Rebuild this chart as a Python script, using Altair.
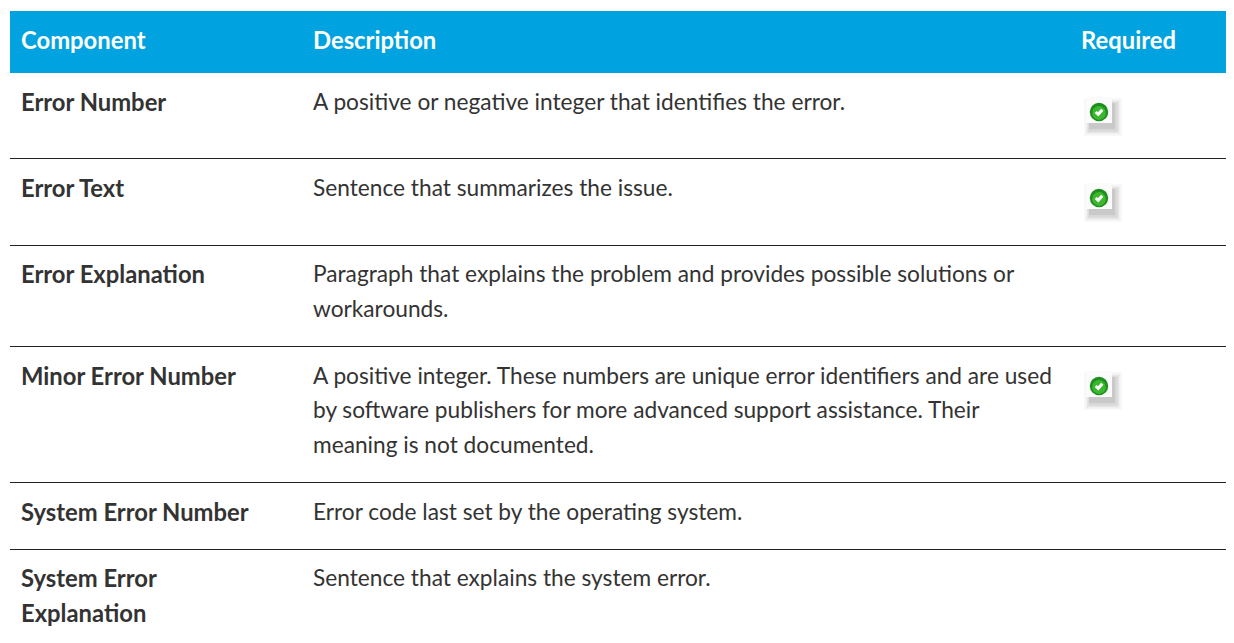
import altair as alt
import pandas as pd

# ---- table content ----
headers = ["Component", "Description", "Required"]
components = [
    ["Error Number"],
    ["Error Text"],
    ["Error Explanation"],
    ["Minor Error Number"],
    ["System Error Number"],
    ["System Error", "Explanation"],
]
descriptions = [
    ["A positive or negative integer that identifies the error."],
    ["Sentence that summarizes the issue."],
    ["Paragraph that explains the problem and provides possible solutions or", "workarounds."],
    ["A positive integer. These numbers are unique error identifiers and are used",
     "by software publishers for more advanced support assistance. Their",
     "meaning is not documented."],
    ["Error code last set by the operating system."],
    ["Sentence that explains the system error."],
]
required_rows = [0, 1, 3]

# ---- layout: scales from table structure to the page ----
LINE_PX = [33, 95, 181, 267, 302, 369, 403, 438, 505, 571, 606]   # line index -> y
COL_PX = [13, 305, 1073]                                          # column index -> x
RULE_PX = [150.5, 237.5, 338.5, 474.5, 541.5]                     # row boundary -> y
ICON_PX = [104, 190, 378]                                         # required row -> y
FONT = "Lato"
W, H = 1218, 627

first_line = [1, 2, 3, 5, 8, 9]

cells = [dict(col=i, line=0, text=h) for i, h in enumerate(headers)]
body_left, body_right = [], []
for r in range(len(components)):
    for k, t in enumerate(components[r]):
        body_left.append(dict(col=0, line=first_line[r] + k, text=t))
    for k, t in enumerate(descriptions[r]):
        body_right.append(dict(col=1, line=first_line[r] + k, text=t))

x_scale = alt.Scale(domain=[0, 1, 2], range=COL_PX)
y_lines = alt.Scale(domain=list(range(len(LINE_PX))), range=LINE_PX)
y_rules = alt.Scale(domain=list(range(len(RULE_PX))), range=RULE_PX)
y_icons = alt.Scale(domain=list(range(len(ICON_PX))), range=ICON_PX)


def text_layer(rows, color, weight, size, dy=0):
    return alt.Chart(pd.DataFrame(rows)).mark_text(
        align="left", baseline="middle", font=FONT, fontSize=size,
        fontWeight=weight, color=color, dy=dy
    ).encode(
        x=alt.X("col:Q", scale=x_scale, axis=None),
        y=alt.Y("line:Q", scale=y_lines, axis=None),
        text="text:N",
    )


banner = alt.Chart(pd.DataFrame({"a": [0]})).mark_rect(color="#00A3E0").encode(
    x=alt.value(2), x2=alt.value(W), y=alt.value(3), y2=alt.value(65)
)
rules = alt.Chart(pd.DataFrame({"i": list(range(len(RULE_PX)))})).mark_rule(
    color="#222222", strokeWidth=1
).encode(
    x=alt.value(2), x2=alt.value(W),
    y=alt.Y("i:Q", scale=y_rules, axis=None),
)

icon_df = pd.DataFrame({"i": list(range(len(required_rows))), "col": [2] * len(required_rows)})


def icon_part(**mark):
    return alt.Chart(icon_df, mark=alt.MarkDef(**mark)).encode(
        x=alt.X("col:Q", scale=x_scale, axis=None),
        y=alt.Y("i:Q", scale=y_icons, axis=None),
    )


XO = 17
icon_layers = []
for side, off, op in [(38, 5, 0.03), (35, 5, 0.04), (32, 5, 0.06), (29, 5, 0.07), (26, 4, 0.09)]:
    icon_layers.append(icon_part(type="square", size=side * side, color="#333333",
                                 opacity=op, xOffset=XO + off, yOffset=off))
icon_layers.append(icon_part(type="square", size=26 * 26, color="#FBFBFB", opacity=1,
                             xOffset=XO + 1, yOffset=-2))
icon_layers.append(icon_part(type="circle", size=340, color="#1E8F1E", opacity=1, xOffset=XO + 1))
icon_layers.append(icon_part(type="circle", size=190, color="#3DB82E", opacity=1, xOffset=XO + 1, yOffset=1))
icon_layers.append(icon_part(type="point", shape="M -0.5 0 L -0.12 0.36 L 0.5 -0.36",
                             filled=False, size=170, stroke="#FFFFFF", strokeWidth=3,
                             opacity=1, xOffset=XO + 1))

layers = [
    banner,
    rules,
    text_layer(cells, "#FFFFFF", "bold", 23.8, 1),
    text_layer(body_left, "#333333", "bold", 23.8, 1),
    text_layer(body_right, "#333333", "normal", 22.7),
] + icon_layers

chart = alt.layer(*layers).resolve_scale(y="independent").properties(
    width=W, height=H, padding=0, autosize=alt.AutoSizeParams(type="none"),
    background="#FFFFFF",
).configure_view(stroke=None)

chart.save("out.html", embed_options={"renderer": "svg", "actions": False})
